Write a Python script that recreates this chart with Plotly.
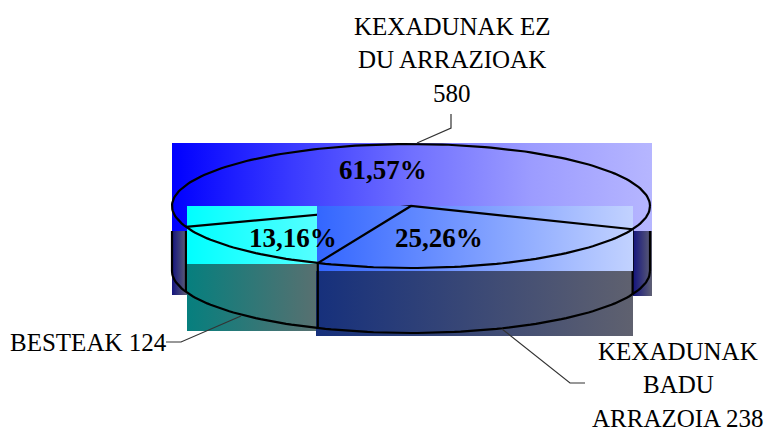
import numpy as np
import plotly.graph_objects as go

# --- data (clockwise order starting at the right-hand edge of the pie) ---
categories = ["KEXADUNAK BADU ARRAZOIA", "BESTEAK", "KEXADUNAK EZ DU ARRAZIOAK"]
values = [238, 124, 580]
pct_labels = ["25,26%", "13,16%", "61,57%"]
label_lines = [["KEXADUNAK", "BADU", "ARRAZOIA 238"], ["BESTEAK 124"], ["KEXADUNAK EZ", "DU ARRAZIOAK", "580"]]

# --- layout of the pseudo-3D pie ---
CX, CY, RX, RY, DEPTH = 411, 206, 239, 62, 65
START_DEG = 22
BLACK = "#000000"


def pt(deg, dy=0):
    a = np.radians(deg)
    return CX + RX * np.cos(a), CY + RY * np.sin(a) + dy


total = sum(values)
edges = START_DEG + np.concatenate([[0], np.cumsum(values)]) / total * 360

fig = go.Figure()


def rect(x0, x1, y0, y1, *colors):
    n = len(colors) - 1
    scale = [[i / n, c] for i, c in enumerate(colors)]
    fig.add_trace(go.Scatter(
        x=[x0, x1, x1, x0, x0], y=[y0, y0, y1, y1, y0], mode="none", fill="toself",
        fillgradient=dict(type="horizontal", colorscale=scale),
        hoverinfo="skip", showlegend=False))


def line(xs, ys, width=2.2, color=BLACK):
    fig.add_trace(go.Scatter(
        x=list(xs), y=list(ys), mode="lines", line=dict(color=color, width=width),
        hoverinfo="skip", showlegend=False))


px_r, py_r = pt(edges[0])
px_b, py_b = pt(edges[1])
px_l, py_l = pt(edges[2])

rect(172, 652, 143, 231, "#0000ff", "#3a3aff", "#7070ff", "#9c9cff", "#b6b6ff")
rect(172, 187, 231, 295, "#14147e", "#5f6074")
rect(633, 652, 231, 296, "#14147e", "#5f6074")
line([px_l, px_l], [231, py_l + DEPTH])
rect(187, 317, 206, 264, "#00ffff", "#55ffff")
rect(187, 317, 264, 331, "#067f7e", "#587070")
rect(316, 633, 271, 336, "#16307c", "#5f616f")

line([px_l, CX], [py_l, CY])
line([px_r, px_r], [py_r, py_r + DEPTH])

rect(317, 633, 206, 271, "#3366ff", "#c2d2ff")

t = np.linspace(0, 360, 241)
ex, ey = pt(t)
line(ex, ey)
t = np.linspace(0, 180, 121)
ex, ey = pt(t, DEPTH)
line(ex, ey)
line([CX + RX, CX + RX], [231, CY + DEPTH])
line([CX - RX, CX - RX], [231, CY + DEPTH])
line([px_b, px_b], [py_b, py_b + DEPTH])
line([px_r, CX, px_b], [py_r, CY, py_b])

# leader lines
LEAD = "#333333"
line([451, 451, 417], [114, 128, 143], 1.2, LEAD)
line([166, 181, 241], [342, 342, 316], 1.2, LEAD)
line([502, 570, 585], [329, 383, 383], 1.2, LEAD)


def text(x, y, s, size=25, bold=False, anchor="center"):
    fig.add_annotation(
        x=x, y=y, text=f"<b>{s}</b>" if bold else s, showarrow=False, xanchor=anchor, yanchor="middle",
        font=dict(family="Liberation Serif", size=size, color=BLACK))


text(383, 170, pct_labels[2], 27, True)
text(293, 238, pct_labels[1], 27, True)
text(439, 238, pct_labels[0], 27, True)

for (x, y0), lines in zip([(678, 351), (88, 342), (452, 26)], label_lines):
    for i, s in enumerate(lines):
        text(x, y0 + i * 33.5, s)

fig.update_layout(
    width=768, height=432, margin=dict(l=0, r=0, t=0, b=0),
    paper_bgcolor="white", plot_bgcolor="white", showlegend=False,
    xaxis=dict(range=[0, 768], visible=False, fixedrange=True),
    yaxis=dict(range=[432, 0], visible=False, fixedrange=True),
)
fig.write_html("out.html", config={"displayModeBar": False},
               post_script="document.body.style.margin='0';document.documentElement.style.overflow='hidden';")
